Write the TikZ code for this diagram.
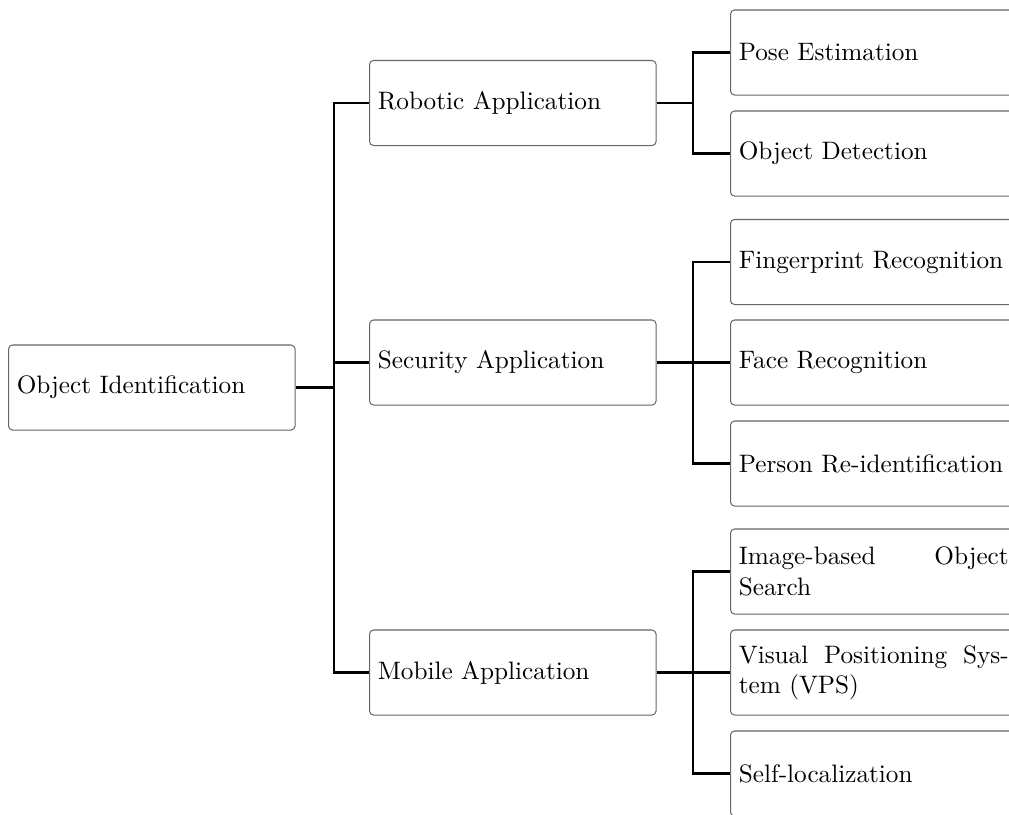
\documentclass[tikz,border=0pt]{standalone}
\usetikzlibrary{positioning}
\begin{document}
\begin{tikzpicture}[x=0.39643pt,y=-0.39643pt,
  box/.style={draw=black!60, line width=0.4pt, rounded corners=1.6pt, rectangle,
    text width=107pt, align=justify, minimum height=33.7pt, inner sep=3.3pt, anchor=west},
  conn/.style={draw=black, line width=0.8pt}]
\useasboundingbox (0,0) rectangle (1009,815);
\clip (0,0) rectangle (1009,815);
% level 1
\node[box] (root) at (8,387.5) {Object Identification};
% level 2
\node[box] (rob) at (369,103) {Robotic Application};
\node[box] (sec) at (369,362.5) {Security Application};
\node[box] (mob) at (369,672.5) {Mobile Application};
% level 3
\node[box] (pose) at (730,52.5) {Pose Estimation};
\node[box] (det) at (730,153.5) {Object Detection};
\node[box] (fing) at (730,262) {Fingerprint Recognition};
\node[box] (face) at (730,362.5) {Face Recognition};
\node[box] (pers) at (730,463.5) {Person Re-identification};
\node[box] (img) at (730,571.5) {Image-based Object Search};
\node[box] (vps) at (730,672.5) {Visual Positioning System (VPS)};
\node[box] (self) at (730,773.5) {Self-localization};
% connectors
\draw[conn] (root.east) -- ++(38,0) coordinate (j1);
\draw[conn] (j1) |- (rob.west);
\draw[conn] (j1) |- (sec.west);
\draw[conn] (j1) |- (mob.west);
\draw[conn] (rob.east) -- ++(36,0) coordinate (j2);
\draw[conn] (j2) |- (pose.west);
\draw[conn] (j2) |- (det.west);
\draw[conn] (sec.east) -- ++(36,0) coordinate (j3);
\draw[conn] (j3) |- (fing.west);
\draw[conn] (j3) |- (face.west);
\draw[conn] (j3) |- (pers.west);
\draw[conn] (mob.east) -- ++(36,0) coordinate (j4);
\draw[conn] (j4) |- (img.west);
\draw[conn] (j4) |- (vps.west);
\draw[conn] (j4) |- (self.west);
\end{tikzpicture}
\end{document}
